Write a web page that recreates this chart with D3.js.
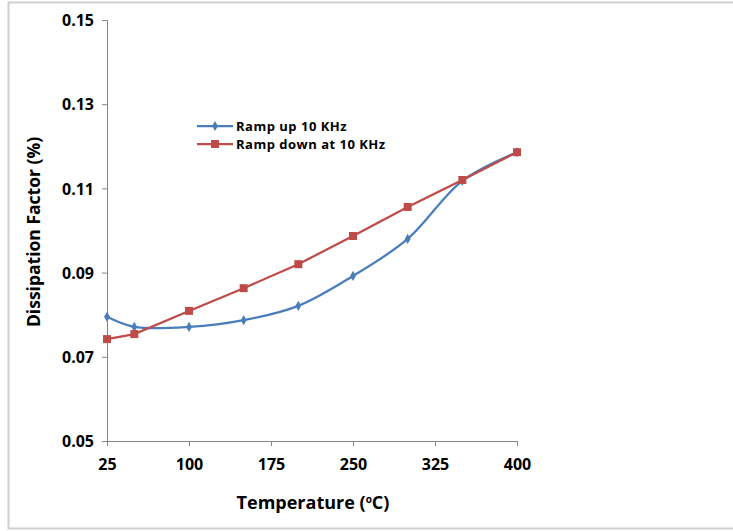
<!DOCTYPE html>
<html>
<head>
<meta charset="utf-8">
<script src="https://cdn.jsdelivr.net/npm/d3@7"></script>
<style>
  html, body { margin: 0; padding: 0; background: #fff; }
  svg { display: block; }
  text { font-family: "Open Sans", Lato, sans-serif; font-weight: bold; fill: #000; }
</style>
</head>
<body>
<svg id="chart" width="733" height="531"></svg>
<script>
// Temperature steps (°C)
const temperatures = [25, 50, 100, 150, 200, 250, 300, 350, 400];
// Dissipation factor (%) for each ramp direction at 10 kHz
const rampUp   = [0.0795, 0.0771, 0.0771, 0.0787, 0.0821, 0.0892, 0.0980, 0.1118, 0.1186];
const rampDown = [0.0742, 0.0754, 0.0809, 0.0863, 0.0920, 0.0987, 0.1056, 0.1120, 0.1186];
const xTicks = [25, 100, 175, 250, 325, 400];
const yTicks = [0.05, 0.07, 0.09, 0.11, 0.13, 0.15];
const seriesNames = ["Ramp up 10 KHz", "Ramp down at 10 KHz"];

const svg = d3.select("#chart");

// outer frame
svg.append("path")
  .attr("d", "M740,2.5 H8.5 V528.5 H740")
  .attr("fill", "none").attr("stroke", "#d0d0d0").attr("stroke-width", 2);

const x = d3.scaleLinear().domain([25, 400]).range([107, 517]);
const y = d3.scaleLinear().domain([0.05, 0.15]).range([441, 20]);

const axisColor = "#868686";

// y axis
const yAxis = svg.append("g").attr("transform", "translate(107,0)")
  .call(d3.axisLeft(y).tickValues(yTicks).tickFormat(d3.format(".2f")).tickSize(5).tickPadding(8));
yAxis.selectAll("path, line").attr("stroke", axisColor);
yAxis.selectAll("text").style("font-size", "16px").attr("dy", "0.35em");

// x axis
const xAxis = svg.append("g").attr("transform", "translate(0,441)")
  .call(d3.axisBottom(x).tickValues(xTicks).tickFormat(d3.format("d")).tickSize(5).tickPadding(13));
xAxis.selectAll("path, line").attr("stroke", axisColor);
xAxis.selectAll("text").style("font-size", "16px");

// axis titles
const xTitle = svg.append("text")
  .attr("x", 313).attr("y", 509).attr("text-anchor", "middle")
  .style("font-size", "18px");
xTitle.append("tspan").text("Temperature (");
xTitle.append("tspan").text("o").attr("dy", -6).style("font-size", "10px");
xTitle.append("tspan").text("C)").attr("dy", 6);

svg.append("text")
  .attr("transform", "translate(40,232) rotate(-90)")
  .attr("text-anchor", "middle")
  .style("font-size", "17.5px")
  .text("Dissipation Factor (%)");

const blue = "#4a7ebb";
const red = "#be4b48";

const upData = temperatures.map((t, i) => ({ t, v: rampUp[i] }));
const downData = temperatures.map((t, i) => ({ t, v: rampDown[i] }));

// ramp up: smoothed line with diamond markers
svg.append("path")
  .datum(upData)
  .attr("fill", "none").attr("stroke", blue).attr("stroke-width", 2.25)
  .attr("d", d3.line().x(d => x(d.t)).y(d => y(d.v)).curve(d3.curveCatmullRom.alpha(0.5)));

// ramp down: straight segments with square markers
svg.append("path")
  .datum(downData)
  .attr("fill", "none").attr("stroke", red).attr("stroke-width", 2.25)
  .attr("d", d3.line().x(d => x(d.t)).y(d => y(d.v)));

const diamond = d3.symbol().type(d3.symbolDiamond).size(30);
svg.append("g").selectAll("path").data(upData).join("path")
  .attr("transform", d => `translate(${x(d.t)},${y(d.v)})`)
  .attr("d", diamond).attr("fill", blue);

svg.append("g").selectAll("rect").data(downData).join("rect")
  .attr("x", d => x(d.t) - 4).attr("y", d => y(d.v) - 4)
  .attr("width", 8).attr("height", 8).attr("fill", red);

// legend
const legend = svg.append("g");
const legendRows = [
  { name: seriesNames[0], color: blue, marker: "diamond", yPos: 126 },
  { name: seriesNames[1], color: red, marker: "square", yPos: 144 }
];
legendRows.forEach(r => {
  legend.append("line").attr("x1", 197).attr("x2", 233).attr("y1", r.yPos).attr("y2", r.yPos)
    .attr("stroke", r.color).attr("stroke-width", 2.25);
  if (r.marker === "diamond") {
    legend.append("path").attr("transform", `translate(215,${r.yPos})`).attr("d", diamond).attr("fill", r.color);
  } else {
    legend.append("rect").attr("x", 211).attr("y", r.yPos - 4).attr("width", 8).attr("height", 8).attr("fill", r.color);
  }
  legend.append("text").attr("x", 236).attr("y", r.yPos).attr("dy", "0.35em")
    .style("font-size", "13px").style("letter-spacing", "0.5px").text(r.name);
});
</script>
</body>
</html>
